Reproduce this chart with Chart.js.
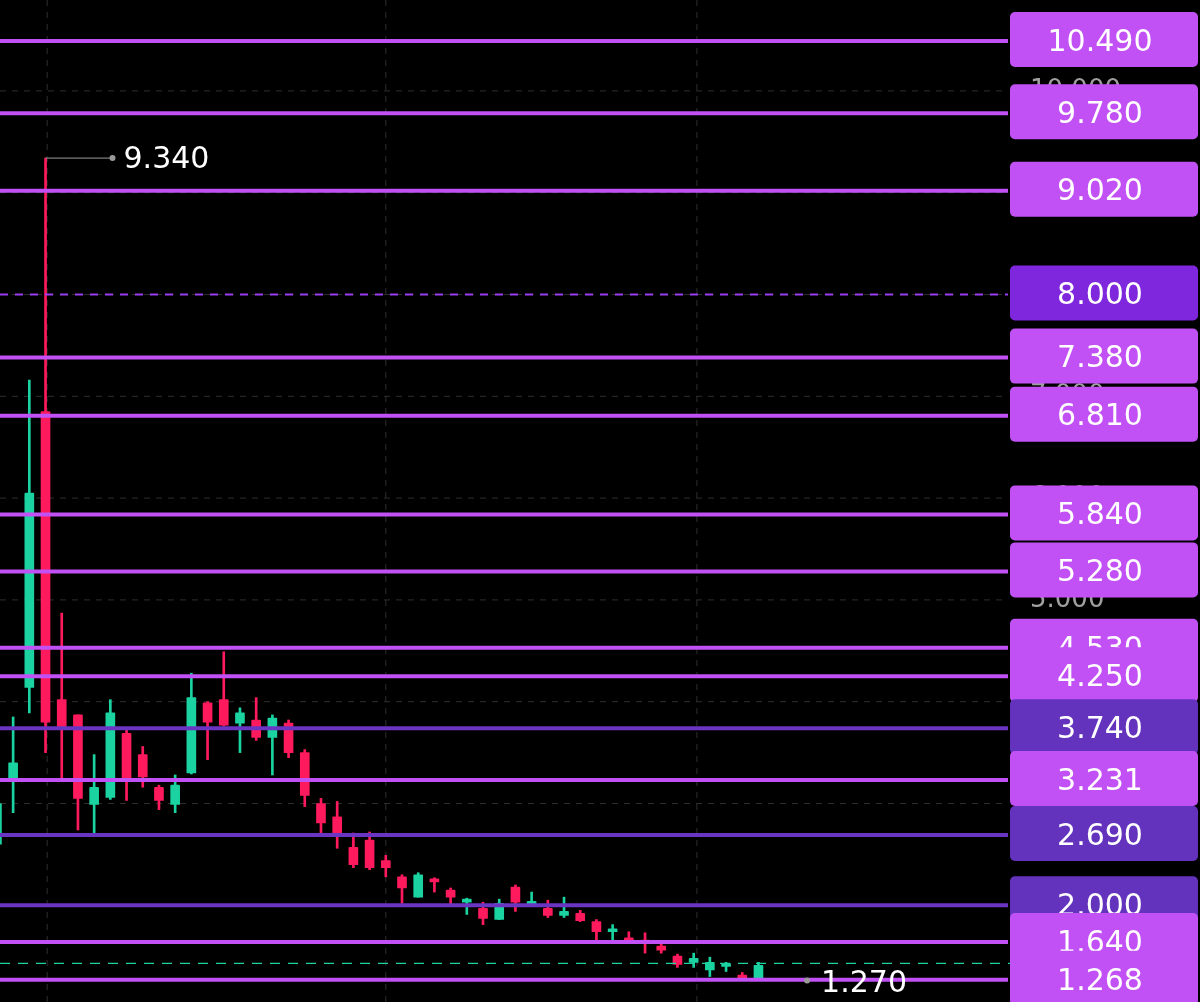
<!DOCTYPE html>
<html><head><meta charset="utf-8">
<script src="https://cdn.jsdelivr.net/npm/chart.js@4/dist/chart.umd.min.js"></script>
<style>html,body{margin:0;padding:0;background:#000;}#w{width:1200px;height:1002px;}</style>
</head><body><div id="w"><canvas id="c"></canvas></div>
<script>
const openP  = [2.60,3.25,4.14,6.85,4.02,3.87,2.99,3.06,3.69,3.48,3.16,2.99,3.30,3.99,4.02,3.79,3.82,3.65,3.79,3.50,3.00,2.87,2.57,2.64,2.44,2.28,2.08,2.26,2.15,2.03,1.97,1.86,2.18,2.01,1.97,1.90,1.92,1.84,1.74,1.68,1.65,1.60,1.50,1.44,1.365,1.40,1.315,1.28];
const highP  = [3.23,3.85,7.16,9.34,4.87,3.87,3.48,4.02,3.72,3.56,3.18,3.28,4.28,4.00,4.49,3.94,4.04,3.87,3.82,3.53,3.05,3.02,2.71,2.72,2.49,2.30,2.32,2.27,2.17,2.07,2.03,2.06,2.20,2.13,2.05,2.08,1.95,1.86,1.81,1.74,1.73,1.62,1.52,1.53,1.49,1.44,1.34,1.44];
const lowP   = [2.37,2.91,3.89,3.50,3.25,2.74,2.71,3.04,3.03,3.16,2.94,2.91,3.29,3.43,3.76,3.50,3.62,3.28,3.45,2.97,2.71,2.56,2.37,2.35,2.28,2.02,2.08,2.13,2.01,1.91,1.81,1.86,1.94,2.01,1.88,1.88,1.84,1.66,1.64,1.64,1.53,1.53,1.39,1.39,1.30,1.35,1.27,1.27];
const closeP = [3.00,3.40,6.05,3.80,3.74,3.05,3.16,3.89,3.25,3.26,3.03,3.18,4.04,3.80,3.77,3.89,3.65,3.84,3.50,3.08,2.81,2.71,2.40,2.37,2.37,2.17,2.30,2.23,2.08,2.06,1.87,2.02,2.03,2.03,1.90,1.94,1.85,1.74,1.77,1.64,1.63,1.56,1.42,1.48,1.44,1.41,1.28,1.41];
const levels = [10.490,9.780,9.020,8.000,7.380,6.810,5.840,5.280,4.530,4.250,3.740,3.231,2.690,2.000,1.640,1.268];
const levelLabels = ["10.490","9.780","9.020","8.000","7.380","6.810","5.840","5.280","4.530","4.250","3.740","3.231","2.690","2.000","1.640","1.268"];
const levelKind = ["p","p","p","d","p","p","p","p","p","p","v","p","v","v","p","p"];
const yTicks = [2,3,4,5,6,7,8,9,10];
const xGrid = [3.1,24,43.2];
const lastPrice = 1.43;
const highMark = {i:3, v:9.340, label:"9.340"};
const lowMark = {i:50, v:1.270, label:"1.270"};

const UP='#1ad3a0', DN='#ff1a5e';
const idx = openP.map((_,i)=>i);
const col = i => closeP[i]>=openP[i]?UP:DN;
const kindCol = {p:'#c150f5', d:'#9a3cf0', v:'#6a35c2'};
const boxCol = {p:'#c150f5', d:'#7f27dd', v:'#6433bd'};

const plugin = {
  id:'lv',
  beforeDatasetsDraw(ch){
    const {ctx, chartArea:a, scales:{x,y}} = ch;
    ctx.save();
    ctx.strokeStyle='#2e2e2e'; ctx.lineWidth=1; ctx.setLineDash([6,6]);
    yTicks.forEach(v=>{const py=y.getPixelForValue(v);ctx.beginPath();ctx.moveTo(a.left,py);ctx.lineTo(a.right,py);ctx.stroke();});
    xGrid.forEach(v=>{const px=x.getPixelForValue(v);ctx.beginPath();ctx.moveTo(px,a.top);ctx.lineTo(px,a.bottom);ctx.stroke();});
    ctx.setLineDash([]);
    ctx.fillStyle='#a0a0a0';ctx.font='26px "DejaVu Sans"';ctx.textAlign='left';ctx.textBaseline='middle';
    yTicks.forEach(v=>ctx.fillText(v.toFixed(3),1030,y.getPixelForValue(v)));
    ctx.restore();
  },
  afterDatasetsDraw(ch){
    const {ctx, chartArea:a, scales:{x,y}} = ch;
    ctx.save();
    ctx.strokeStyle=UP; ctx.lineWidth=1.2; ctx.setLineDash([10,8]);
    let py=y.getPixelForValue(lastPrice);
    ctx.beginPath();ctx.moveTo(a.left,py);ctx.lineTo(ch.width,py);ctx.stroke();
    ctx.setLineDash([]);
    levels.forEach((v,k)=>{
      const p=y.getPixelForValue(v);
      ctx.strokeStyle=kindCol[levelKind[k]];
      ctx.lineWidth = levelKind[k]==='d'?2:4;
      ctx.setLineDash(levelKind[k]==='d'?[8,7]:[]);
      ctx.beginPath();ctx.moveTo(a.left,p);ctx.lineTo(a.right,p);ctx.stroke();
    });
    ctx.setLineDash([]);
    const hx=x.getPixelForValue(highMark.i), hy=y.getPixelForValue(highMark.v);
    ctx.strokeStyle='#9a9a9a'; ctx.lineWidth=1;
    ctx.beginPath();ctx.moveTo(hx,hy);ctx.lineTo(hx+66,hy);ctx.stroke();
    ctx.fillStyle='#9a9a9a';ctx.beginPath();ctx.arc(hx+67,hy,3,0,7);ctx.fill();
    ctx.fillStyle='#fff';ctx.font='30px "DejaVu Sans"';ctx.textBaseline='middle';ctx.textAlign='left';
    ctx.fillText(highMark.label,hx+78,hy+2);
    const lx=x.getPixelForValue(lowMark.i), ly=y.getPixelForValue(lowMark.v);
    ctx.fillStyle='#9a9a9a';ctx.beginPath();ctx.arc(lx,ly+1,3,0,7);ctx.fill();
    ctx.fillStyle='#fff';ctx.fillText(lowMark.label,lx+14,ly+5);
    ctx.restore();
  },
  afterDraw(ch){
    const {ctx, scales:{y}} = ch;
    ctx.save();
    ctx.font='30px "DejaVu Sans"';ctx.textAlign='center';ctx.textBaseline='middle';
    levels.forEach((v,k)=>{
      const p=y.getPixelForValue(v);
      ctx.fillStyle=boxCol[levelKind[k]];
      ctx.beginPath();ctx.roundRect(1010,p-29,188,55,5);ctx.fill();
      ctx.fillStyle='#fff';
      ctx.fillText(levelLabels[k],1100,p+2);
    });
    ctx.restore();
  }
};

new Chart(document.getElementById('c'),{
  type:'bar',
  data:{labels:idx,datasets:[
    {data:idx.map(i=>({x:i,y:[lowP[i],highP[i]]})),backgroundColor:idx.map(col),barThickness:2,grouped:false,order:2},
    {data:idx.map(i=>({x:i,y:[Math.min(openP[i],closeP[i]),Math.max(openP[i],closeP[i])]})),backgroundColor:idx.map(col),barThickness:9,minBarLength:3,grouped:false,borderRadius:1,order:1}
  ]},
  options:{
    animation:false,responsive:true,maintainAspectRatio:false,
    layout:{padding:{left:0,top:0,bottom:0,right:192}},
    plugins:{legend:{display:false},tooltip:{enabled:false}},
    scales:{
      x:{type:'linear',offset:false,min:0.19,max:62.4,display:false,grid:{display:false}},
      y:{min:1.05,max:10.893,display:false,grid:{display:false}}
    }
  },
  plugins:[plugin]
});
</script></body></html>
